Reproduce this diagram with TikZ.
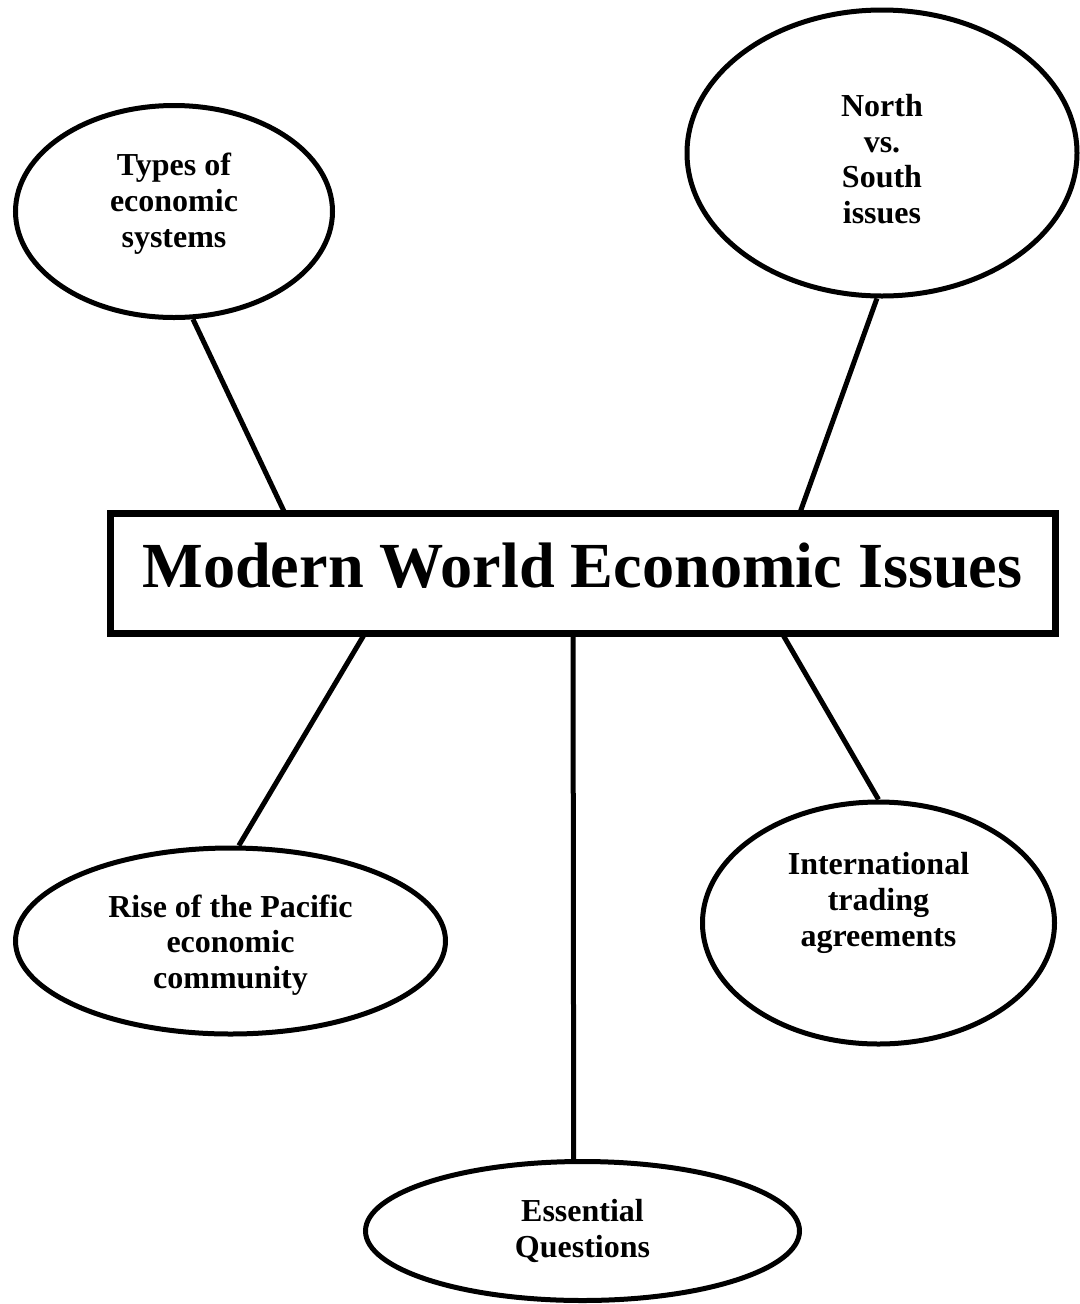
\documentclass[tikz,border=0pt]{standalone}
\usepackage{fontspec}
\setmainfont{Liberation Serif}
\usetikzlibrary{shapes.geometric,calc}

\begin{document}
\begin{tikzpicture}[x=0.75pt,y=-0.75pt,
      bubble/.style={
         ellipse,
         draw=black,
         line width=3.75pt,
         inner sep=0pt},
      bubble_text/.style={
         align=center,
         inner sep=0pt,
         font=\fontsize{24}{26.8}\selectfont\bfseries},
      title_box/.style={
         rectangle,
         draw=black,
         line width=5.25pt,
         outer sep=0pt,
         minimum width=708.75pt,
         minimum height=90pt,
         text depth=11.5pt,
         font=\fontsize{48.2}{51}\selectfont\bfseries},
      link/.style={
         line width=3.75pt,
         }
]
      \useasboundingbox (0,0) rectangle (1080,1304);

      %centre
      \node[title_box] (title) at (582.5,573) {Modern World Economic Issues};

      %bubbles
      \node[bubble,minimum width=237.75pt,minimum height=159pt] (types) at (174,211.5) {};
      \node[bubble,minimum width=292.5pt,minimum height=214.5pt] (north) at (882,153) {};
      \node[bubble,minimum width=322.5pt,minimum height=139.5pt] (pacific) at (230.5,941) {};
      \node[bubble,minimum width=264pt,minimum height=181.5pt] (trade) at (878.5,923) {};
      \node[bubble,minimum width=325.5pt,minimum height=104.25pt] (questions) at (582.5,1231) {};

      %bubble texts
      \node[bubble_text,yshift=6pt] (types_txt) at (types) {Types of\\economic\\systems};
      \node[bubble_text,yshift=-4.5pt] (north_txt) at (north) {North\\vs.\\South\\issues};
      \node[bubble_text,yshift=-3pt] (pacific_txt) at (pacific) {Rise of the Pacific\\economic\\community};
      \node[bubble_text,yshift=15pt] (trade_txt) at (trade) {International\\trading\\agreements};
      \node[bubble_text] (questions_txt) at (questions) {Essential\\Questions};

      %points on the box
      \coordinate (t_types) at ($(title.north west)!0.185!(title.north east)$);
      \coordinate (t_north) at ($(title.north west)!0.730!(title.north east)$);
      \coordinate (t_pacific) at ($(title.south west)!0.270!(title.south east)$);
      \coordinate (t_questions) at ($(title.south west)!0.490!(title.south east)$);
      \coordinate (t_trade) at ($(title.south west)!0.711!(title.south east)$);

    \foreach \i/\j in {% start/end
      types.-80.7/t_types,
      north.-92/t_north,
      t_pacific/pacific.85.4,
      t_questions/questions.97.7,
      t_trade/trade.90.7}
    \draw [link] (\i) -- (\j);

\end{tikzpicture}
\end{document}
